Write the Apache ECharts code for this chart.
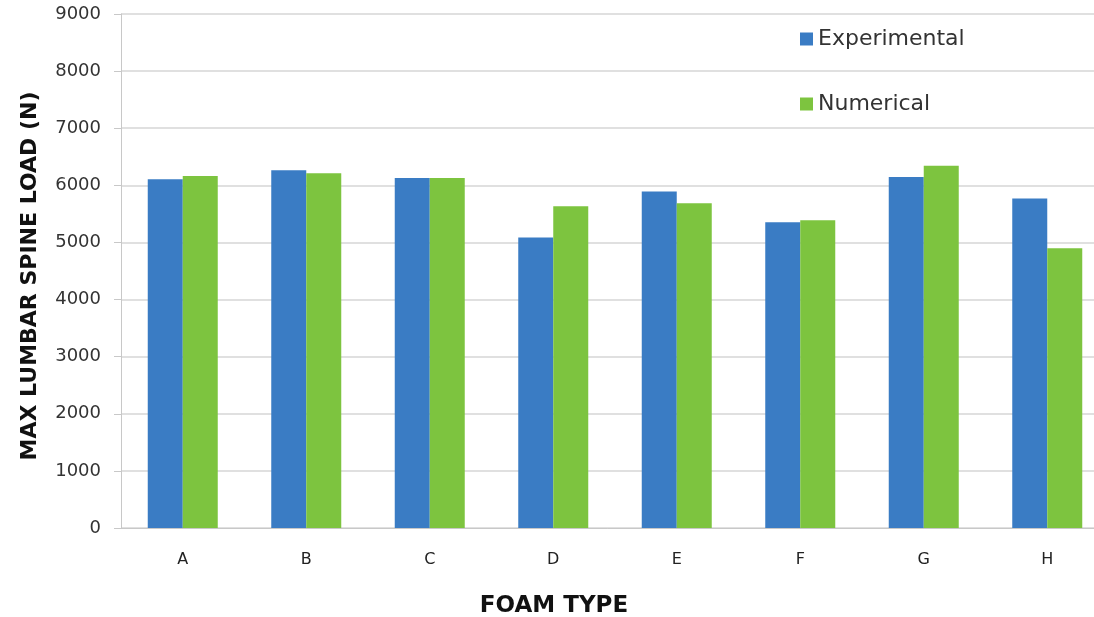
<!DOCTYPE html>
<html>
<head>
<meta charset="utf-8">
<script src="https://cdn.jsdelivr.net/npm/echarts@6/dist/echarts.min.js"></script>
<style>
  html, body { margin: 0; padding: 0; background: #fff; }
  #chart { width: 1094px; height: 617px; }
</style>
</head>
<body>
<div id="chart"></div>
<script>
// Foam types on the x axis
const categories = ['A', 'B', 'C', 'D', 'E', 'F', 'G', 'H'];
// Maximum lumbar spine load (N)
const experimental = [6105, 6265, 6130, 5085, 5890, 5355, 6145, 5770];
const numerical = [6165, 6210, 6130, 5635, 5685, 5390, 6345, 4900];
const yTicks = [0, 1000, 2000, 3000, 4000, 5000, 6000, 7000, 8000, 9000];

const FONT = '"DejaVu Sans", "Noto Sans", sans-serif';
const chart = echarts.init(document.getElementById('chart'));

chart.setOption({
  animation: false,
  backgroundColor: '#ffffff',
  textStyle: { fontFamily: FONT },
  // the plot runs past the right edge of the canvas, so let it overflow
  grid: { left: 121, width: 988, top: 14, height: 514, containLabel: false, outerBoundsMode: 'none' },
  legend: {
    orient: 'vertical',
    left: 795,
    top: 23,
    itemWidth: 13,
    itemHeight: 13,
    itemGap: 43,
    icon: 'rect',
    textStyle: { fontFamily: FONT, fontSize: 22, color: '#333' },
    data: ['Experimental', 'Numerical']
  },
  xAxis: {
    type: 'category',
    data: categories,
    name: 'FOAM TYPE',
    nameLocation: 'middle',
    nameGap: 67,
    nameTextStyle: { fontFamily: FONT, fontSize: 23, fontWeight: 'bold', color: '#111', padding: [0, 122, 0, 0] },
    axisLine: { lineStyle: { color: '#c8c8c8', width: 1 } },
    axisTick: { show: false },
    axisLabel: { fontSize: 16, color: '#222', margin: 24 }
  },
  yAxis: {
    type: 'value',
    min: yTicks[0],
    max: yTicks[yTicks.length - 1],
    interval: 1000,
    name: 'MAX LUMBAR SPINE LOAD (N)',
    nameLocation: 'middle',
    nameGap: 80,
    nameTextStyle: { fontFamily: FONT, fontSize: 22, fontWeight: 'bold', color: '#111', padding: [0, 10, 0, 0] },
    axisLine: { show: true, lineStyle: { color: '#c8c8c8', width: 1 } },
    axisTick: { show: true, length: 7, lineStyle: { color: '#c8c8c8' } },
    axisLabel: { fontSize: 18, color: '#333', margin: 20, formatter: v => String(v) },
    splitLine: { lineStyle: { color: '#d6d6d6', width: 1.5 } }
  },
  series: [
    {
      name: 'Experimental',
      type: 'bar',
      data: experimental,
      barWidth: 35,
      barGap: '0%',
      itemStyle: { color: '#3a7cc4' }
    },
    {
      name: 'Numerical',
      type: 'bar',
      data: numerical,
      barWidth: 35,
      itemStyle: { color: '#7dc43f' }
    }
  ]
});
</script>
</body>
</html>
